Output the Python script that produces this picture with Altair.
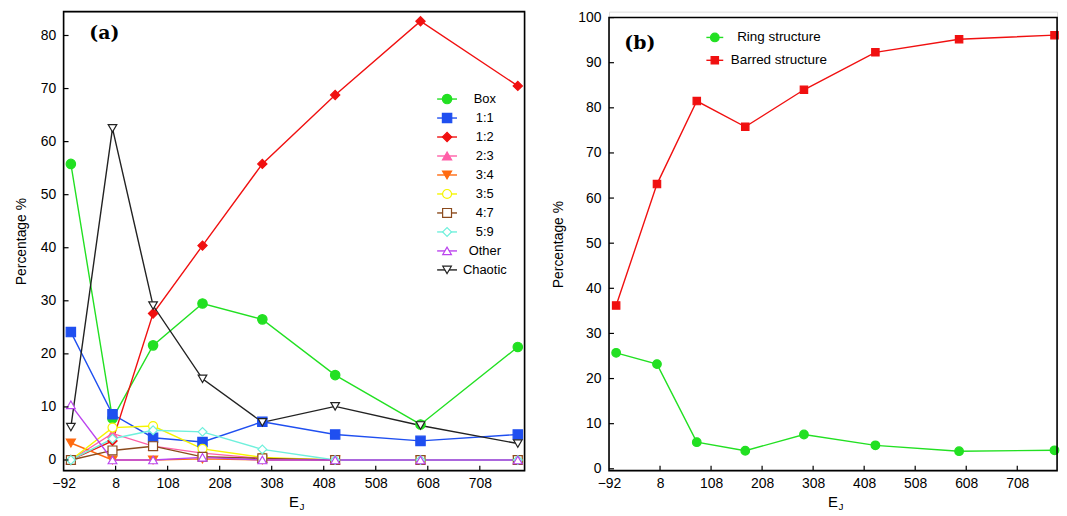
import altair as alt
import pandas as pd

# ---------------- data ----------------
E_J = [-78, 2, 80, 175, 290, 430, 594, 781]

series_a = ["Box", "1:1", "1:2", "2:3", "3:4", "3:5", "4:7", "5:9", "Other", "Chaotic"]
box = [55.8, 7.8, 21.6, 29.5, 26.5, 16.0, 6.7, 21.3]
r11 = [24.1, 8.6, 4.2, 3.4, 7.2, 4.8, 3.6, 4.8]
r12 = [0.0, 3.6, 27.6, 40.4, 55.8, 68.8, 82.7, 70.5]
r23 = [0.0, 5.0, 2.6, 1.3, 0.3, 0.0, 0.0, 0.0]
r34 = [3.2, 0.0, 0.0, 0.2, 0.0, 0.0, 0.0, 0.0]
r35 = [0.0, 6.1, 6.4, 2.1, 0.5, 0.0, 0.0, 0.0]
r47 = [0.0, 1.8, 2.6, 0.6, 0.3, 0.0, 0.0, 0.0]
r59 = [0.0, 4.0, 5.6, 5.3, 2.0, 0.0, 0.0, 0.0]
other = [10.4, 0.0, 0.0, 0.5, 0.0, 0.0, 0.0, 0.0]
chaotic = [6.2, 62.5, 29.1, 15.3, 7.1, 10.1, 6.5, 3.1]
values_a = [box, r11, r12, r23, r34, r35, r47, r59, other, chaotic]

series_b = ["Ring structure", "Barred structure"]
ring = [25.7, 23.2, 5.9, 4.0, 7.6, 5.2, 3.9, 4.1]
barred = [36.2, 63.1, 81.5, 75.8, 84.0, 92.3, 95.2, 96.1]
values_b = [ring, barred]

x_ticks = [-92, 8, 108, 208, 308, 408, 508, 608, 708]
y_ticks_a = [0, 10, 20, 30, 40, 50, 60, 70, 80]
y_ticks_b = [0, 10, 20, 30, 40, 50, 60, 70, 80, 90, 100]

# ---------------- styles ----------------
colors_a = ["#22e022", "#1f4ff0", "#f01010", "#ff5fa8", "#ff6a10",
            "#f5f500", "#8b4a1c", "#6ff0dc", "#bb44ee", "#222222"]
shapes_a = ["circle", "square", "diamond", "triangle-up", "triangle-down",
            "circle", "square", "diamond", "triangle-up", "triangle-down"]
fills_a = colors_a[:5] + ["white"] * 5
sizes_a = [90, 75, 45, 55, 55, 65, 55, 45, 55, 50]

colors_b = ["#22e022", "#f01010"]
shapes_b = ["circle", "square"]
fills_b = colors_b
sizes_b = [75, 55]

FONT = "Liberation Sans"


def long_df(names, vals):
    rows = []
    for n, v in zip(names, vals):
        for e, p in zip(E_J, v):
            rows.append({"series": n, "E": e, "pct": p})
    return pd.DataFrame(rows)


def panel(names, vals, colors, shapes, fills, sizes, xdom, ydom, yticks, W, H, top,
          leg_range, leg_line, leg_text_x, leg_font, tag, tag_xy):
    df = long_df(names, vals)
    xs = alt.Scale(domain=xdom, nice=False, zero=False)
    ys = alt.Scale(domain=ydom, nice=False, zero=False, range=[H, top])
    color = alt.Color("series:N", scale=alt.Scale(domain=names, range=colors), legend=None)
    shape = alt.Shape("series:N", scale=alt.Scale(domain=names, range=shapes), legend=None)
    fill = alt.Fill("series:N", scale=alt.Scale(domain=names, range=fills), legend=None)
    size = alt.Size("series:N", scale=alt.Scale(domain=names, range=sizes), legend=None)

    xaxis = alt.Axis(values=x_ticks, tickSize=0, domain=False, grid=False,
                     labelFontSize=14, labelFont=FONT, labelColor="black",
                     labelPadding=6, labelFlush=False, title=None,
                     labelExpr="datum.value < 0 ? '\u2212' + abs(datum.value) : datum.label")
    yaxis = alt.Axis(values=yticks, tickSize=0, domain=False, grid=False,
                     labelFontSize=14, labelFont=FONT, labelColor="black",
                     labelPadding=8, labelFlush=False,
                     title="Percentage %", titleFont=FONT, titleFontSize=14,
                     titleFontWeight="normal", titleColor="black", titlePadding=12)

    frame = alt.Chart(pd.DataFrame({"f": [0]})).mark_rect(
        fillOpacity=0, stroke="black", strokeWidth=1.6).encode(
        x=alt.value(0), x2=alt.value(W), y=alt.value(top), y2=alt.value(H))
    lines = alt.Chart(df).mark_line(strokeWidth=1.4).encode(
        x=alt.X("E:Q", scale=xs, axis=xaxis),
        y=alt.Y("pct:Q", scale=ys, axis=yaxis),
        color=color,
        detail="series:N",
    )
    pts = alt.Chart(df).mark_point(filled=False, opacity=1, fillOpacity=1, strokeWidth=1.2).encode(
        x=alt.X("E:Q", scale=xs),
        y=alt.Y("pct:Q", scale=ys),
        color=color, shape=shape, fill=fill, size=size,
    )
    xt = alt.Chart(pd.DataFrame({"v": x_ticks[1:]})).mark_rule(color="black", strokeWidth=1.2).encode(
        x=alt.X("v:Q", scale=xs), y=alt.value(H), y2=alt.value(H - 5))
    yt = alt.Chart(pd.DataFrame({"v": yticks})).mark_rule(color="black", strokeWidth=1.2).encode(
        y=alt.Y("v:Q", scale=ys), x=alt.value(0), x2=alt.value(5))
    ex = alt.Chart(pd.DataFrame({"t": ["E"]})).mark_text(
        font=FONT, fontSize=15, color="black", baseline="middle", align="center").encode(
        text="t:N", x=alt.value(W / 2), y=alt.value(H + 32))
    jx = alt.Chart(pd.DataFrame({"t": ["J"]})).mark_text(
        font=FONT, fontSize=10, color="black", baseline="middle", align="center").encode(
        text="t:N", x=alt.value(W / 2 + 8), y=alt.value(H + 37))
    tg = alt.Chart(pd.DataFrame({"t": [tag]})).mark_text(
        font="DejaVu Serif", fontSize=19, fontWeight="bold", color="black",
        baseline="middle", align="center").encode(
        text="t:N", x=alt.value(tag_xy[0]), y=alt.value(tag_xy[1]))

    main = alt.layer(lines, pts, xt, yt, frame, ex, jx, tg)

    leg_df = pd.DataFrame({"series": names})
    ly = alt.Y("series:N", sort=names, axis=None,
               scale=alt.Scale(type="point", domain=names, range=leg_range,
                               padding=0, paddingOuter=0))
    lrule = alt.Chart(leg_df).mark_rule(strokeWidth=1.4).encode(
        y=ly, x=alt.value(leg_line[0]), x2=alt.value(leg_line[1]), color=color)
    lpt = alt.Chart(leg_df).mark_point(filled=False, opacity=1, fillOpacity=1, strokeWidth=1.2).encode(
        y=ly, x=alt.value((leg_line[0] + leg_line[1]) / 2),
        color=color, shape=shape, fill=fill, size=size)
    ltx = alt.Chart(leg_df).mark_text(font=FONT, fontSize=leg_font, color="black",
                                      align="center", baseline="middle").encode(
        y=ly, x=alt.value(leg_text_x), text="series:N")
    leg = alt.layer(lrule, lpt, ltx)

    return alt.layer(main, leg).resolve_scale(y="independent").properties(width=W, height=H)


left = panel(series_a, values_a, colors_a, shapes_a, fills_a, sizes_a,
             [-92, 794], [-2, 84.5], y_ticks_a, 464, 462, 0,
             [88, 260], [376, 396], 424, 13, "(a)", (41, 22))
right = panel(series_b, values_b, colors_b, shapes_b, fills_b, sizes_b,
              [-92, 786], [-0.4, 100], y_ticks_b, 451, 462, 6,
              [26, 49], [98, 115], 171, 13.5, "(b)", (31, 32))

chart = alt.hconcat(left, right, spacing=25).resolve_scale(
    x="independent", y="independent", color="independent",
    shape="independent", fill="independent", size="independent"
).properties(
    padding={"left": 13, "top": 8, "right": 5, "bottom": 0}
).configure_view(strokeWidth=0).configure(background="white")

chart.save("out.html", embed_options={"renderer": "svg", "actions": False})
